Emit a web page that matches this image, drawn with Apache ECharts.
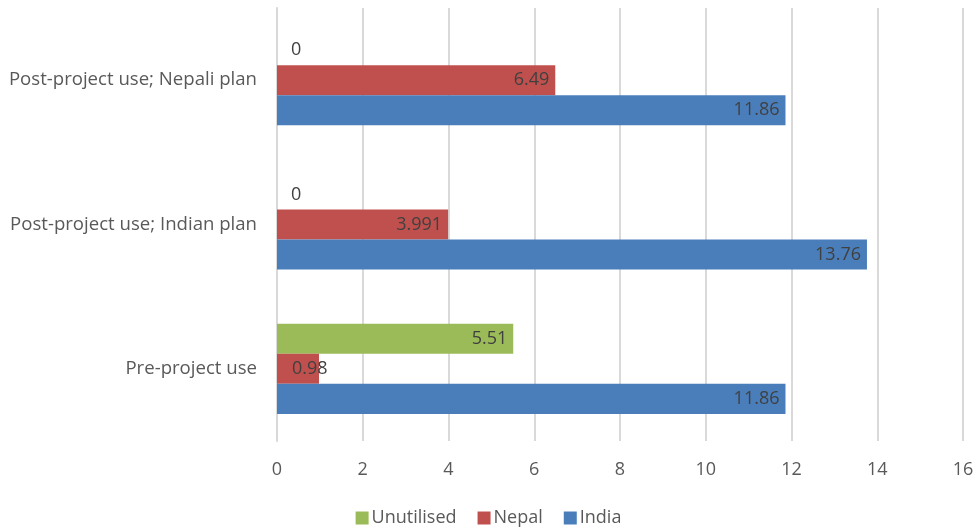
<!DOCTYPE html>
<html><head><meta charset="utf-8">
<script src="https://cdn.jsdelivr.net/npm/echarts@6/dist/echarts.min.js"></script>
<style>html,body{margin:0;padding:0;background:#fff}#c{width:977px;height:530px}</style>
</head><body><div id="c"></div>
<script>
const categories = ['Pre-project use', 'Post-project use; Indian plan', 'Post-project use; Nepali plan'];
const india = [11.86, 13.76, 11.86];
const nepal = [0.98, 3.991, 6.49];
const unutilised = [5.51, 0, 0];
const xTicks = [0, 2, 4, 6, 8, 10, 12, 14, 16];

const FONT = 'Open Sans';
const FS = 18;
function items(arr) {
  return arr.map(v => {
    if (v === 0) return { value: v, label: { position: 'right', distance: 14 } };
    if (v < 1.5) return { value: v, label: { position: 'insideLeft', offset: [9, 0] } };
    return { value: v };
  });
}
const baseLabel = { show: true, position: 'insideRight', distance: 6, color: '#404040', fontSize: FS, fontFamily: FONT };
const chart = echarts.init(document.getElementById('c'));
chart.setOption({
  animation: false,
  textStyle: { fontFamily: FONT },
  grid: { left: 277, right: 14, top: 8, bottom: 89, containLabel: false },
  legend: {
    data: ['Unutilised', 'Nepal', 'India'], bottom: -2, left: 'center',
    icon: 'rect', itemWidth: 13, itemHeight: 13, itemGap: 21, itemStyle: { borderWidth: 0 },
    textStyle: { color: '#595959', fontSize: FS, fontFamily: FONT, padding: [0, 0, 0, -2] }
  },
  xAxis: {
    type: 'value', min: xTicks[0], max: xTicks[xTicks.length - 1], interval: 2,
    axisLine: { show: false }, axisTick: { show: false },
    axisLabel: { color: '#595959', fontSize: FS, margin: 20, fontFamily: FONT },
    splitLine: { lineStyle: { color: '#d9d9d9', width: 2 } }
  },
  yAxis: {
    type: 'category', data: categories,
    axisLine: { show: true, lineStyle: { color: '#d9d9d9', width: 2 } },
    axisTick: { show: false },
    axisLabel: { color: '#595959', fontSize: 18.6, margin: 20, fontFamily: FONT }
  },
  series: [
    { name: 'Unutilised', type: 'bar', data: items(unutilised), itemStyle: { color: '#9BBB59' }, label: baseLabel, barGap: '0%', barCategoryGap: '37.5%' },
    { name: 'Nepal', type: 'bar', data: items(nepal), itemStyle: { color: '#C0504D' }, label: baseLabel },
    { name: 'India', type: 'bar', data: items(india), itemStyle: { color: '#4A7EBB' }, label: baseLabel }
  ]
});
</script></body></html>
